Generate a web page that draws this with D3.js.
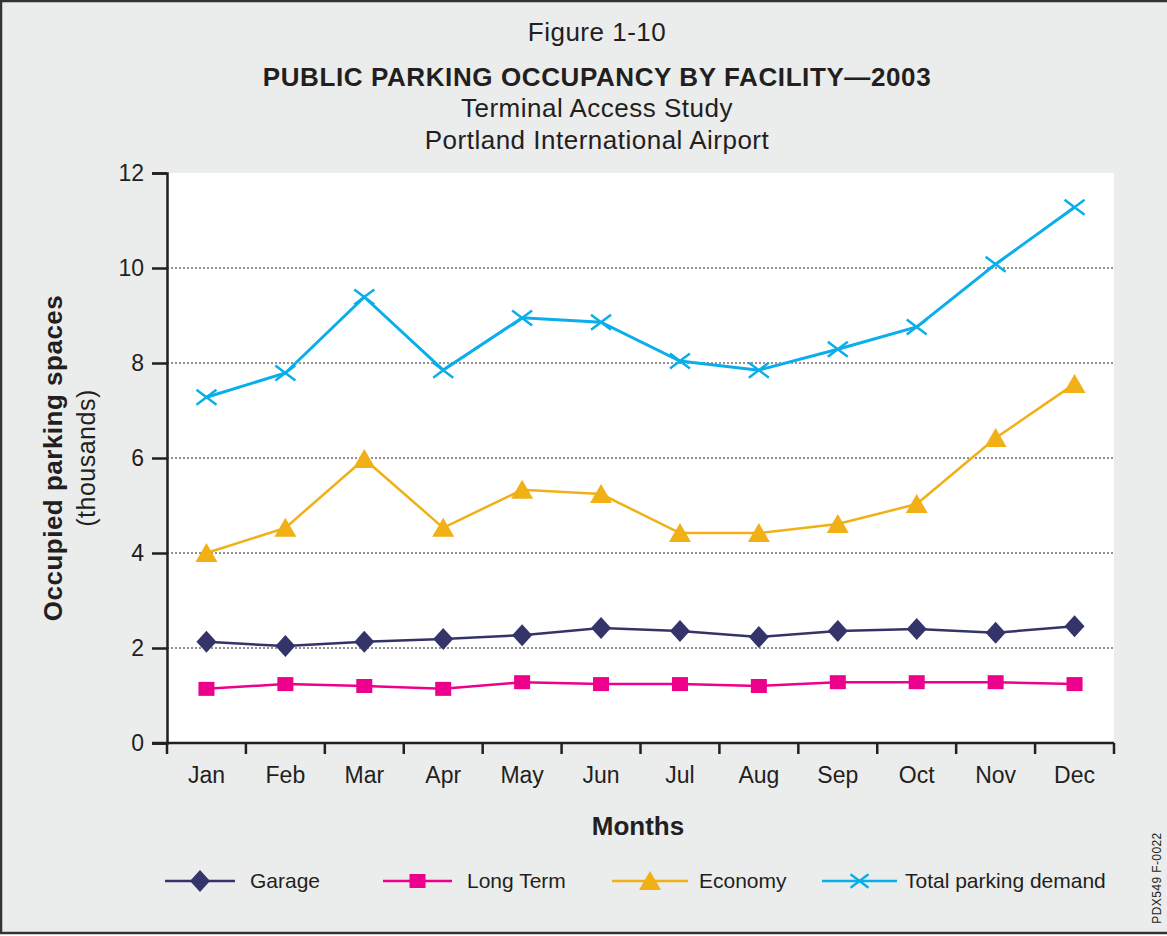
<!DOCTYPE html>
<html>
<head>
<meta charset="utf-8">
<script src="https://cdn.jsdelivr.net/npm/d3@7"></script>
<style>
  body { margin: 0; background: #fff; }
  text { font-family: "Liberation Sans", Arial, sans-serif; fill: #231f20; }
</style>
</head>
<body>
<svg id="chart" width="1167" height="936"></svg>
<script>
var months = ["Jan", "Feb", "Mar", "Apr", "May", "Jun", "Jul", "Aug", "Sep", "Oct", "Nov", "Dec"];
var garage = [2.13, 2.04, 2.13, 2.19, 2.27, 2.42, 2.36, 2.23, 2.36, 2.40, 2.32, 2.46];
var longTerm = [1.14, 1.24, 1.20, 1.14, 1.28, 1.24, 1.24, 1.20, 1.28, 1.28, 1.28, 1.24];
var economy = [4.00, 4.53, 5.98, 4.53, 5.33, 5.24, 4.42, 4.42, 4.61, 5.03, 6.42, 7.56];
var totalDemand = [7.28, 7.79, 9.39, 7.85, 8.95, 8.86, 8.04, 7.85, 8.29, 8.76, 10.08, 11.28];
var yTicks = [0, 2, 4, 6, 8, 10, 12];

var series = [
    {name: "Garage", values: garage, color: "#34346a", symbol: "diamond"},
    {name: "Long Term", values: longTerm, color: "#ec008c", symbol: "square"},
    {name: "Economy", values: economy, color: "#f0b016", symbol: "triangle"},
    {name: "Total parking demand", values: totalDemand, color: "#0aaeea", symbol: "cross"}
];

var svg = d3.select("#chart");

// frame
svg.append("rect").attr("x", 1).attr("y", 1).attr("width", 1170).attr("height", 932)
    .attr("fill", "#ebecec").attr("stroke", "#333").attr("stroke-width", 2.5);

var pLeft = 167, pRight = 1114, pTop = 173, pBottom = 743;

svg.append("rect").attr("x", pLeft).attr("y", pTop)
    .attr("width", pRight - pLeft).attr("height", pBottom - pTop).attr("fill", "#fff");

var x = d3.scaleBand().domain(months).range([pLeft, pRight]);
var y = d3.scaleLinear().domain([0, 12]).range([pBottom, pTop]);

// titles
var cx = 597;
function title(txt, ty, bold) {
    svg.append("text").attr("x", cx).attr("y", ty).attr("text-anchor", "middle")
        .style("font-size", "26px").style("letter-spacing", bold ? "0.6px" : "0.5px")
        .style("font-weight", bold ? "bold" : "normal").text(txt);
}
title("Figure 1-10", 41, false);
title("PUBLIC PARKING OCCUPANCY BY FACILITY\u20142003", 86, true);
title("Terminal Access Study", 117, false);
title("Portland International Airport", 149, false);

// grid
svg.append("g").selectAll("line")
    .data(yTicks.filter(function(d) { return d > 0 && d < 12; }))
    .enter().append("line")
    .attr("x1", pLeft).attr("x2", pRight)
    .attr("y1", function(d) { return y(d); }).attr("y2", function(d) { return y(d); })
    .attr("stroke", "#222").attr("stroke-width", 1).attr("stroke-dasharray", "2,2");

// y axis
var yAxis = svg.append("g").attr("transform", "translate(" + pLeft + ",0)")
    .call(d3.axisLeft(y).tickValues(yTicks).tickSize(15).tickPadding(8));
yAxis.select(".domain").attr("stroke", "#231f20").attr("stroke-width", 2.5);
yAxis.selectAll(".tick line").attr("stroke", "#231f20").attr("stroke-width", 2.5);
yAxis.selectAll(".tick text").style("font-size", "23px")
    .style("font-family", "Liberation Sans, Arial, sans-serif").attr("fill", "#231f20");

// x axis: ticks at band boundaries
var xAxisG = svg.append("g");
xAxisG.append("line").attr("x1", pLeft - 15).attr("x2", pRight).attr("y1", pBottom).attr("y2", pBottom)
    .attr("stroke", "#231f20").attr("stroke-width", 2.5);
xAxisG.selectAll("line.tk").data(months.concat(["end"])).enter().append("line")
    .attr("class", "tk")
    .attr("x1", function(d, i) { return i < months.length ? x(d) : pRight; })
    .attr("x2", function(d, i) { return i < months.length ? x(d) : pRight; })
    .attr("y1", pBottom).attr("y2", pBottom + 11)
    .attr("stroke", "#231f20").attr("stroke-width", 2.5);
xAxisG.selectAll("text").data(months).enter().append("text")
    .attr("x", function(d) { return x(d) + x.bandwidth() / 2; })
    .attr("y", 783).attr("text-anchor", "middle")
    .style("font-size", "23px").text(function(d) { return d; });

svg.append("text").attr("x", 638).attr("y", 835).attr("text-anchor", "middle")
    .style("font-size", "26px").style("font-weight", "bold").text("Months");

svg.append("text").attr("transform", "translate(62,458) rotate(-90)")
    .attr("text-anchor", "middle").style("font-size", "26px").style("font-weight", "bold")
    .style("letter-spacing", "0.5px").text("Occupied parking spaces");
svg.append("text").attr("transform", "translate(95,458) rotate(-90)")
    .attr("text-anchor", "middle").style("font-size", "25px").style("letter-spacing", "0.5px")
    .text("(thousands)");

// markers
function drawMarker(g, sym, color, size) {
    if (sym === "cross") {
        var s = size;
        g.append("path").attr("d", "M" + (-s) + "," + (-s * 0.75) + "L" + s + "," + (s * 0.75) +
            "M" + (-s) + "," + (s * 0.75) + "L" + s + "," + (-s * 0.75))
            .attr("stroke", color).attr("stroke-width", 2.5).attr("fill", "none");
    } else if (sym === "diamond") {
        g.append("path").attr("d", "M0,-11L10,0L0,11L-10,0Z").attr("fill", color);
    } else if (sym === "square") {
        g.append("rect").attr("x", -8).attr("y", -7).attr("width", 16).attr("height", 14).attr("fill", color);
    } else if (sym === "triangle") {
        g.append("path").attr("d", "M0,-10L11,9L-11,9Z").attr("fill", color);
    }
}

var line = d3.line()
    .x(function(d, i) { return x(months[i]) + x.bandwidth() / 2; })
    .y(function(d) { return y(d); });

series.forEach(function(s) {
    var g = svg.append("g");
    g.append("path").datum(s.values).attr("d", line)
        .attr("fill", "none").attr("stroke", s.color)
        .attr("stroke-width", s.symbol === "cross" ? 3 : 2.5);
    s.values.forEach(function(v, i) {
        var m = g.append("g").attr("transform", "translate(" + (x(months[i]) + x.bandwidth() / 2) + "," + y(v) + ")");
        drawMarker(m, s.symbol, s.color, 10);
    });
});

// legend
var legendPos = [
    {x1: 165, x2: 235, tx: 250},
    {x1: 383, x2: 452, tx: 467},
    {x1: 612, x2: 688, tx: 699},
    {x1: 822, x2: 897, tx: 905}
];
var ly = 881;
series.forEach(function(s, i) {
    var p = legendPos[i];
    var g = svg.append("g");
    g.append("line").attr("x1", p.x1).attr("x2", p.x2).attr("y1", ly).attr("y2", ly)
        .attr("stroke", s.color).attr("stroke-width", 2.5);
    var m = g.append("g").attr("transform", "translate(" + ((p.x1 + p.x2) / 2) + "," + ly + ")");
    drawMarker(m, s.symbol, s.color, 9);
    g.append("text").attr("x", p.tx).attr("y", ly + 7).style("font-size", "21px").text(s.name);
});

svg.append("text").attr("transform", "translate(1161,878) rotate(-90)")
    .attr("text-anchor", "middle").style("font-size", "12px").style("letter-spacing", "0.4px")
    .text("PDX549 F-0022");
</script>
</body>
</html>
